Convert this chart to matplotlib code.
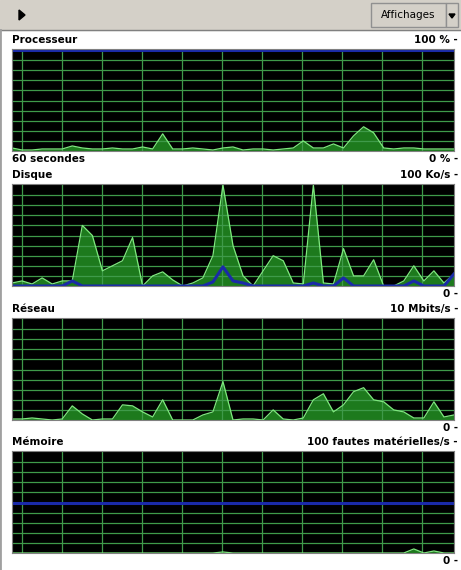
import numpy as np
import matplotlib
matplotlib.use("Agg")
import matplotlib.pyplot as plt
from matplotlib.patches import Rectangle, Polygon

W, H = 461, 570

# values in % of each graph's scale, one sample per second-ish
proc = [3, 1, 1, 2, 2,  2, 5, 3, 2, 2,  3, 2, 2, 4, 2,
        17, 2, 2, 3, 2,  1, 3, 4, 1, 2,  2, 1, 2, 3, 10,
        3, 3, 7, 3, 15,  24, 18, 3, 2, 3,  3, 2, 2, 2, 2]
proc_blue = [100] * 45

disk = [3, 5, 2, 8, 2,  5, 5, 60, 50, 15,  20, 25, 48, 0, 10,
        14, 6, 0, 3, 8,  30, 100, 40, 10, 0,  15, 30, 25, 3, 2,
        100, 3, 2, 37, 10,  10, 26, 0, 0, 5,  20, 5, 15, 3, 12]
disk_blue = [0, 0, 0, 0, 0,  0, 5, 0, 0, 0,  0, 0, 0, 0, 0,
             0, 0, 0, 0, 0,  4, 19, 5, 3, 0,  0, 0, 0, 0, 0,
             3, 0, 0, 8, 0,  0, 0, 0, 0, 0,  5, 0, 0, 0, 12]

net = [1, 1, 2, 1, 0,  1, 14, 6, 0, 1,  1, 15, 14, 8, 3,
       20, 0, 0, 0, 5,  8, 38, 0, 1, 1,  0, 10, 1, 0, 2,
       20, 26, 8, 15, 28,  32, 20, 18, 10, 8,  2, 2, 18, 3, 5]

mem = [0] * 45
mem[21] = 1
mem[40] = 4
mem[42] = 2
mem_blue = [50] * 45

panels = [
    ("Processeur", "100 % -", "60 secondes", "0 % -", proc, proc_blue, 49),
    ("Disque", "100 Ko/s -", "", "0 -", disk, disk_blue, 184),
    ("Réseau", "10 Mbits/s -", "", "0 -", net, None, 318),
    ("Mémoire", "100 fautes matérielles/s -", "", "0 -", mem, mem_blue, 451),
]

fig = plt.figure(figsize=(W / 100, H / 100), dpi=100)
fig.patch.set_facecolor("white")
bg = fig.add_axes([0, 0, 1, 1])
bg.set_xlim(0, W); bg.set_ylim(H, 0); bg.axis("off")

# toolbar
bg.add_patch(Rectangle((0, 0), W, 30, color="#d4d0c8"))
bg.plot([0, W], [30, 30], color="#808080", lw=1)
bg.plot([0, 0], [30, H], color="#a0a0a0", lw=2)
bg.add_patch(Polygon([[19, 10], [19, 20], [25, 15]], color="black"))
bg.add_patch(Rectangle((371, 3), 75, 24, facecolor="#d4d0c8", edgecolor="#909090"))
bg.add_patch(Rectangle((446, 3), 12, 24, facecolor="#d4d0c8", edgecolor="#909090"))
bg.add_patch(Polygon([[449, 14], [455, 14], [452, 18]], color="black"))
bg.text(408, 15, "Affichages", ha="center", va="center", fontsize=7.5)

x0, x1 = 12, 454
x = np.arange(45)
for title, top_lbl, bot_left, bot_lbl, vals, blue, y0 in panels:
    h = 102
    ax = fig.add_axes([x0 / W, 1 - (y0 + h) / H, (x1 - x0) / W, h / H])
    ax.set_facecolor("black")
    ax.set_xlim(0, 44)
    ax.set_ylim(0, 101)
    for gx in range(22, x1, 40):
        ax.axvline((gx - x0) / (x1 - x0) * 44, color="#3f9a4a", lw=0.9)
    for gy in range(10, 100, 10):
        ax.axhline(gy, color="#3f9a4a", lw=0.9)
    ax.fill_between(x, vals, color="#1d7a1d", lw=0)
    ax.plot(x, vals, color="#7ee87e", lw=0.9)
    if blue is not None:
        ax.plot(x, blue, color="#1a2aa8", lw=2.2)
    ax.set_xticks([]); ax.set_yticks([])
    for s in ax.spines.values():
        s.set_color("#808080")

    bg.text(12, y0 - 9, title, fontsize=7.5, fontweight="bold", va="center")
    bg.text(458, y0 - 9, top_lbl, fontsize=7.5, fontweight="bold",
            va="center", ha="right")
    bg.text(458, y0 + h + 8, bot_lbl, fontsize=7.5, fontweight="bold",
            va="center", ha="right")
    if bot_left:
        bg.text(12, y0 + h + 8, bot_left, fontsize=7.5, fontweight="bold",
                va="center")

fig.savefig("out.png", dpi=100)
